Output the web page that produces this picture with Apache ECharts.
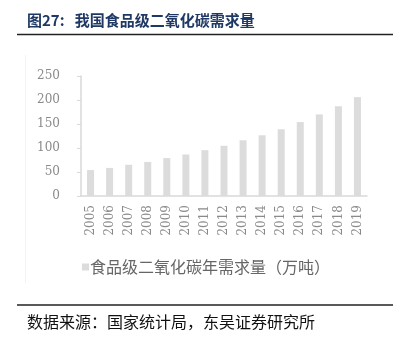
<!DOCTYPE html>
<html>
<head>
<meta charset="utf-8">
<script src="https://cdn.jsdelivr.net/npm/echarts@6/dist/echarts.min.js"></script>
<style>
  html, body { margin: 0; padding: 0; background: #fff; }
  #chart { width: 398px; height: 346px; }
</style>
</head>
<body>
<div id="chart"></div>
<script>
// Annual demand for food-grade CO2 in China, 2005-2019 (10k tonnes)
const years = ['2005', '2006', '2007', '2008', '2009', '2010', '2011', '2012',
               '2013', '2014', '2015', '2016', '2017', '2018', '2019'];
const demand = [54, 58.5, 65, 71, 79, 86.5, 95.5, 104.5, 116, 126.5, 139, 154, 170, 187, 206];
const yTicks = [0, 50, 100, 150, 200, 250];

const titleText = '图27:   我国食品级二氧化碳需求量';
const seriesName = '食品级二氧化碳年需求量（万吨）';
const sourceText = '数据来源：国家统计局，东吴证券研究所';

const serif = '"DejaVu Serif", "Liberation Serif", serif';
const cjk = '"Noto Sans CJK SC", sans-serif';
const barColor = '#dcdcdc';
const axisColor = '#d9d9d9';

const chart = echarts.init(document.getElementById('chart'), null, { renderer: 'canvas' });

chart.setOption({
  backgroundColor: '#ffffff',
  animation: false,
  grid: { left: 81, right: 31, top: 76, bottom: 150 },
  legend: {
    data: [seriesName],
    left: 77,
    top: 254,
    itemWidth: 7,
    itemHeight: 7,
    icon: 'rect',
    textStyle: { fontFamily: cjk, fontSize: 16, color: '#666666', padding: [0, 0, 0, -4] }
  },
  xAxis: {
    type: 'category',
    data: years,
    axisLine: { lineStyle: { color: axisColor, width: 1.5 } },
    axisTick: { show: false },
    axisLabel: {
      rotate: 90,
      margin: 9,
      fontFamily: serif,
      fontSize: 12,
      color: '#8a8a8a'
    }
  },
  yAxis: {
    type: 'value',
    min: yTicks[0],
    max: yTicks[yTicks.length - 1],
    interval: yTicks[1] - yTicks[0],
    axisLine: { show: true, lineStyle: { color: axisColor, width: 1.5 } },
    axisTick: { show: true, length: 4, lineStyle: { color: axisColor } },
    splitLine: { show: false },
    axisLabel: {
      margin: 21,
      fontFamily: serif,
      fontSize: 12,
      color: '#8a8a8a'
    }
  },
  series: [{
    name: seriesName,
    type: 'bar',
    data: demand,
    barWidth: 7,
    itemStyle: { color: barColor }
  }],
  graphic: [
    {
      type: 'text',
      left: 27,
      top: 13,
      style: {
        text: titleText,
        fontFamily: cjk,
        fontSize: 15,
        fontWeight: 'bold',
        fill: '#1f3864'
      }
    },
    {
      type: 'line',
      shape: { x1: 17, y1: 34.5, x2: 393, y2: 34.5 },
      style: { stroke: '#222222', lineWidth: 1.5 }
    },
    {
      type: 'line',
      shape: { x1: 25.5, y1: 55, x2: 25.5, y2: 283 },
      style: { stroke: '#f3f3f3', lineWidth: 1 }
    },
    {
      type: 'line',
      shape: { x1: 17, y1: 305, x2: 393, y2: 305 },
      style: { stroke: '#222222', lineWidth: 1.5 }
    },
    {
      type: 'text',
      left: 27,
      top: 314,
      style: {
        text: sourceText,
        fontFamily: cjk,
        fontSize: 16,
        fill: '#111111'
      }
    }
  ]
});
</script>
</body>
</html>
